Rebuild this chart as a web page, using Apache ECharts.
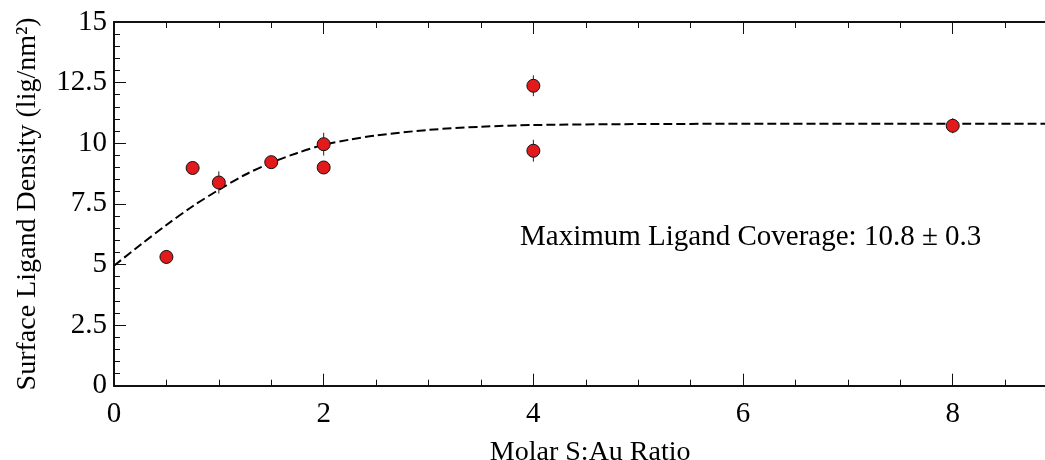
<!DOCTYPE html>
<html>
<head>
<meta charset="utf-8">
<script src="https://cdn.jsdelivr.net/npm/echarts@6/dist/echarts.min.js"></script>
<style>html,body{margin:0;padding:0;background:#fff;}#c{width:1045px;height:460px;}</style>
</head>
<body>
<div id="c"></div>
<script>
// Measured points
const xData = [0.5, 0.75, 1, 1.5, 2, 2, 4, 4, 8];
const yData = [5.31, 8.98, 8.38, 9.22, 9.96, 9.0, 12.37, 9.69, 10.72];
const yErr  = [0.28, 0.2, 0.46, 0.2, 0.47, 0.2, 0.43, 0.45, 0.31];
// Fit curve
const fitX = [0, 0.25, 0.5, 0.75, 1.0, 1.25, 1.5, 1.75, 2.0, 2.25, 2.5, 3.0, 3.5, 4.0, 5.0, 6.0, 7.0, 8.0, 9.0];
const fitY = [4.95, 5.8, 6.63, 7.4, 8.08, 8.7, 9.2, 9.6, 9.93, 10.15, 10.32, 10.55, 10.68, 10.75, 10.79, 10.8, 10.8, 10.8, 10.8];
// Axis ticks
const xTicks = [0, 2, 4, 6, 8];
const yTicks = [0, 2.5, 5, 7.5, 10, 12.5, 15];
const annotation = 'Maximum Ligand Coverage: 10.8 \u00b1 0.3';
const xTitle = 'Molar S:Au Ratio';
const yTitle = 'Surface Ligand Density (lig/nm\u00b2)';

const FONT = '"Liberation Serif", "Times New Roman", serif';
const chart = echarts.init(document.getElementById('c'), null, {renderer: 'canvas'});

const axisLineStyle = {color: '#111', width: 2};
const option = {
  animation: false,
  backgroundColor: '#fff',
  grid: {left: 114, top: 22, bottom: 74.3, right: -117.4, containLabel: false, outerBoundsMode: 'none'},
  xAxis: [{
    type: 'value', min: 0, max: 10, interval: 2, position: 'bottom',
    axisLine: {show: true, onZero: false, lineStyle: axisLineStyle},
    axisTick: {show: true, inside: true, length: 12, lineStyle: {color: '#111', width: 1}},
    minorTick: {show: true, splitNumber: 4, length: 6, lineStyle: {color: '#111', width: 1}},
    splitLine: {show: false}, minorSplitLine: {show: false},
    axisLabel: {
      margin: 14, color: '#000', fontFamily: FONT, fontSize: 29,
      formatter: v => (xTicks.indexOf(v) >= 0 ? String(v) : '')
    },
    name: xTitle, nameLocation: 'middle', nameGap: 53,
    nameTextStyle: {color: '#000', fontFamily: FONT, fontSize: 28, padding: [0, 96, 0, 0]}
  }, {
    type: 'value', min: 0, max: 10, interval: 2, position: 'top',
    axisLine: {show: true, onZero: false, lineStyle: axisLineStyle},
    axisTick: {show: true, inside: true, length: 12, lineStyle: {color: '#111', width: 1}},
    minorTick: {show: true, splitNumber: 4, length: 6, lineStyle: {color: '#111', width: 1}},
    splitLine: {show: false}, axisLabel: {show: false}
  }],
  yAxis: [{
    type: 'value', min: 0, max: 15, interval: 2.5, position: 'left',
    axisLine: {show: true, onZero: false, lineStyle: axisLineStyle},
    axisTick: {show: true, inside: true, length: 12, lineStyle: {color: '#111', width: 1}},
    minorTick: {show: true, splitNumber: 5, length: 6, lineStyle: {color: '#111', width: 1}},
    splitLine: {show: false}, minorSplitLine: {show: false},
    axisLabel: {
      margin: 7, color: '#000', fontFamily: FONT, fontSize: 29,
      formatter: v => (yTicks.indexOf(v) >= 0 ? String(v) : '')
    },
    name: yTitle, nameLocation: 'middle', nameGap: 72, nameRotate: 90,
    nameTextStyle: {color: '#000', fontFamily: FONT, fontSize: 28}
  }],
  series: [{
    type: 'line', name: 'fit', xAxisIndex: 0, yAxisIndex: 0,
    data: fitX.map((x, i) => [x, fitY[i]]),
    smooth: 0.3, symbol: 'none', z: 2,
    lineStyle: {color: '#000', width: 2, type: [9, 4]}
  }, {
    type: 'custom', name: 'err', xAxisIndex: 0, yAxisIndex: 0, z: 3,
    data: xData.map((x, i) => [x, yData[i] - yErr[i], yData[i] + yErr[i]]),
    encode: {x: 0, y: [1, 2]},
    renderItem: function (params, api) {
      const p1 = api.coord([api.value(0), api.value(1)]);
      const p2 = api.coord([api.value(0), api.value(2)]);
      return {type: 'line', shape: {x1: p1[0], y1: p1[1], x2: p2[0], y2: p2[1]},
        style: {stroke: '#222', lineWidth: 1}};
    }
  }, {
    type: 'scatter', name: 'data', xAxisIndex: 0, yAxisIndex: 0, z: 4,
    data: xData.map((x, i) => [x, yData[i]]),
    symbol: 'circle', symbolSize: 13,
    itemStyle: {color: '#E31A1C', borderColor: '#111', borderWidth: 1, opacity: 1}
  }],
  graphic: [{
    type: 'text', left: 520, top: 223,
    style: {text: annotation, font: '29px ' + FONT, fill: '#000'}
  }]
};
chart.setOption(option);
</script>
</body>
</html>
